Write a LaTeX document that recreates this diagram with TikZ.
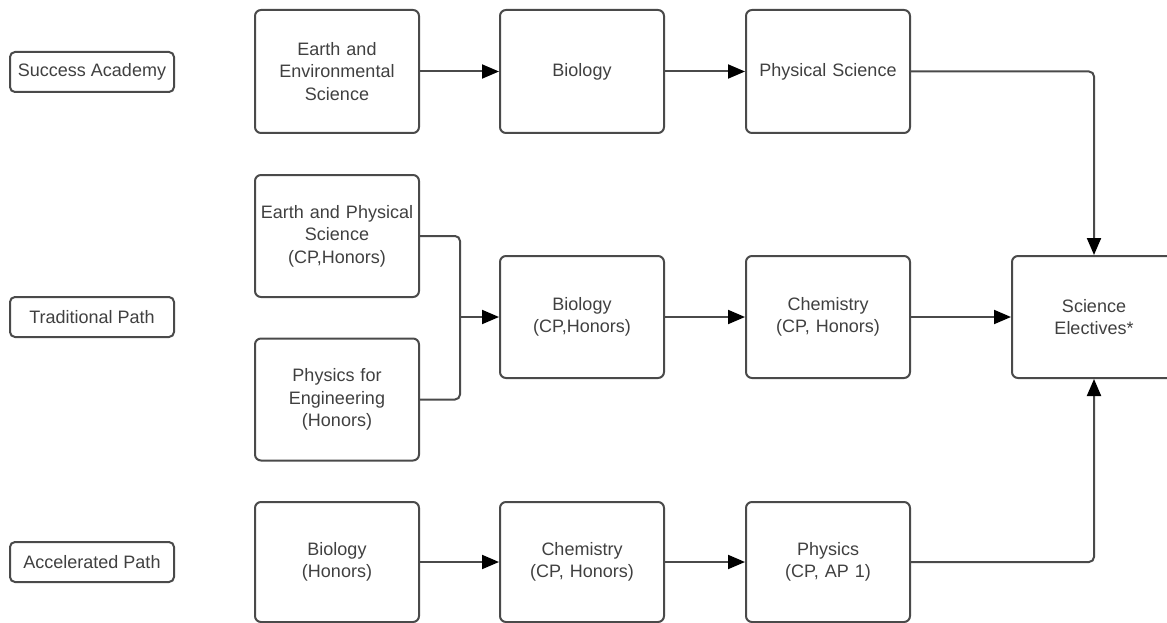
\documentclass[tikz,border=0pt]{standalone}
\usepackage{fontspec}
\setmainfont{Liberation Sans}
\usetikzlibrary{arrows.meta}
\definecolor{ln}{HTML}{4A4A4A}
\definecolor{tx}{HTML}{404040}
\begin{document}
\begin{tikzpicture}[x=1pt,y=-1pt,
  course/.style={draw=ln,line width=2pt,rounded corners=6pt,minimum width=164pt,minimum height=122pt,
    align=center,text=tx,font=\fontsize{18}{22.5}\selectfont,inner sep=0pt,text width=160pt},
  pathlabel/.style={draw=ln,line width=2pt,rounded corners=5pt,minimum width=164pt,minimum height=40pt,
    align=center,text=tx,font=\fontsize{18}{22.5}\selectfont,inner sep=0pt},
  conn/.style={draw=ln,line width=2pt,rounded corners=5pt},
  arr/.style={conn,-{Triangle[length=17pt,width=14pt,color=black]}}]
\useasboundingbox (0,0) rectangle (1167,623);
% path labels
\node[pathlabel] (sa) at (92,72) {Success Academy};
\node[pathlabel] (tp) at (92,317) {Traditional Path};
\node[pathlabel] (ap) at (92,562) {Accelerated Path};
% row 1
\node[course,minimum height=123pt] (ees) at (337,71.5) {Earth and\\Environmental\\Science};
\node[course,minimum height=123pt] (bio1) at (582,71.5) {Biology};
\node[course,minimum height=123pt] (phs) at (828,71.5) {Physical Science};
% row 2
\node[course] (eps) at (337,236) {Earth and Physical\\Science\\(CP,Honors)};
\node[course] (pfe) at (337,399.5) {Physics for\\Engineering\\(Honors)};
\node[course] (bio2) at (582,317) {Biology\\(CP,Honors)};
\node[course] (chem2) at (828,317) {Chemistry\\(CP, Honors)};
\node[course] (sci) at (1094,317) {Science\\Electives*};
% row 3
\node[course,minimum height=120pt] (bio3) at (337,562) {Biology\\(Honors)};
\node[course,minimum height=120pt] (chem3) at (582,562) {Chemistry\\(CP, Honors)};
\node[course,minimum height=120pt] (phy3) at (828,562) {Physics\\(CP, AP 1)};
\coordinate (m) at (460,317);
% connectors
\draw[arr] (ees) -- (bio1);
\draw[arr] (bio1) -- (phs);
\draw[arr] (phs.east) -| (sci.north);
\draw[conn] (eps.east) -| (m);
\draw[conn] (pfe.east) -| (m);
\draw[arr] (m) -- (bio2.west);
\draw[arr] (bio2) -- (chem2);
\draw[arr] (chem2) -- (sci);
\draw[arr] (bio3) -- (chem3);
\draw[arr] (chem3) -- (phy3);
\draw[arr] (phy3.east) -| (sci.south);
\end{tikzpicture}
\end{document}
